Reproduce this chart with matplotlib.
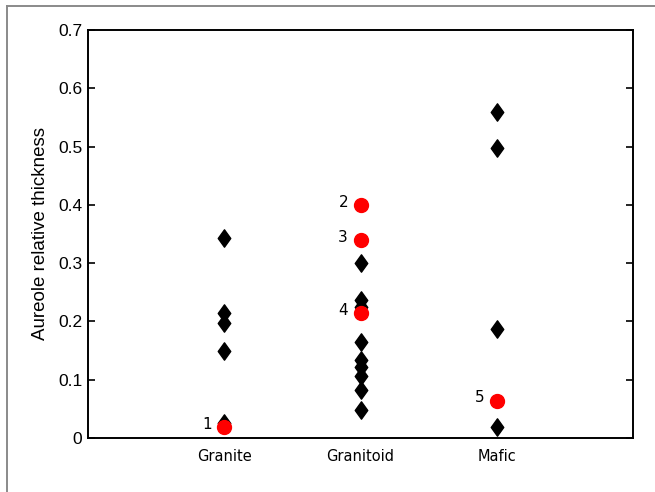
import matplotlib
matplotlib.use("Agg")
import matplotlib.pyplot as plt
from matplotlib.lines import Line2D
from matplotlib.path import Path

categories = ["Granite", "Granitoid", "Mafic"]

# Measured relative aureole thickness per host-rock class
granite_vals = [0.343, 0.214, 0.197, 0.149, 0.026]
granitoid_vals = [0.300, 0.237, 0.225, 0.165, 0.133, 0.121, 0.107, 0.083, 0.048]
mafic_vals = [0.559, 0.498, 0.187, 0.018]

# Highlighted cases: (category index, value, label)
highlight_cat = [0, 1, 1, 1, 2]
highlight_vals = [0.019, 0.399, 0.339, 0.214, 0.064]
highlight_labels = ["1", "2", "3", "4", "5"]

y_ticks = [0, 0.1, 0.2, 0.3, 0.4, 0.5, 0.6, 0.7]
y_ticklabels = ["0", "0.1", "0.2", "0.3", "0.4", "0.5", "0.6", "0.7"]

# Diamond a little narrower than tall
diamond = Path([(0, 1), (0.72, 0), (0, -1), (-0.72, 0), (0, 1)],
               [Path.MOVETO, Path.LINETO, Path.LINETO, Path.LINETO,
                Path.CLOSEPOLY])

fig = plt.figure(figsize=(6.55, 4.92), dpi=100)
ax = fig.add_axes([0.1344, 0.1098, 0.8320, 0.8292])

for i, vals in enumerate([granite_vals, granitoid_vals, mafic_vals]):
    ax.plot([i + 1] * len(vals), vals, linestyle="none", marker=diamond,
            markersize=12.5, markerfacecolor="black", markeredgecolor="black",
            markeredgewidth=1, zorder=3)

hx = [c + 1 for c in highlight_cat]
ax.plot(hx, highlight_vals, linestyle="none", marker="o", markersize=10,
        markerfacecolor="red", markeredgecolor="red", zorder=4)

for x, y, lab in zip(hx, highlight_vals, highlight_labels):
    ax.annotate(lab, (x, y), xytext=(-9, 2), textcoords="offset points",
                ha="right", va="center", fontsize=11, family="DejaVu Sans")

ax.set_xlim(0, 4)
ax.set_ylim(0, 0.7)
ax.set_xticks([1, 2, 3])
ax.set_xticklabels(categories, family="DejaVu Sans", fontsize=10.5)
ax.tick_params(axis="x", length=0, pad=8)
ax.set_yticks(y_ticks)
ax.set_yticklabels(y_ticklabels, family="Liberation Sans", fontsize=12.5)
ax.tick_params(axis="y", direction="in", length=5, width=1.2,
               left=True, right=True, pad=4)
ax.set_ylabel("Aureole relative thickness", family="Liberation Sans",
              fontsize=13.5, labelpad=7)
for sp in ax.spines.values():
    sp.set_linewidth(1.4)

# Thin grey frame along the top and left of the figure
fig.add_artist(Line2D([7 / 655, 7 / 655], [0, 1 - 6 / 492],
                      transform=fig.transFigure, color="#8a8a8a", lw=1.4))
fig.add_artist(Line2D([7 / 655, 1], [1 - 6 / 492, 1 - 6 / 492],
                      transform=fig.transFigure, color="#8a8a8a", lw=1.4))

fig.savefig("out.png", dpi=100)
